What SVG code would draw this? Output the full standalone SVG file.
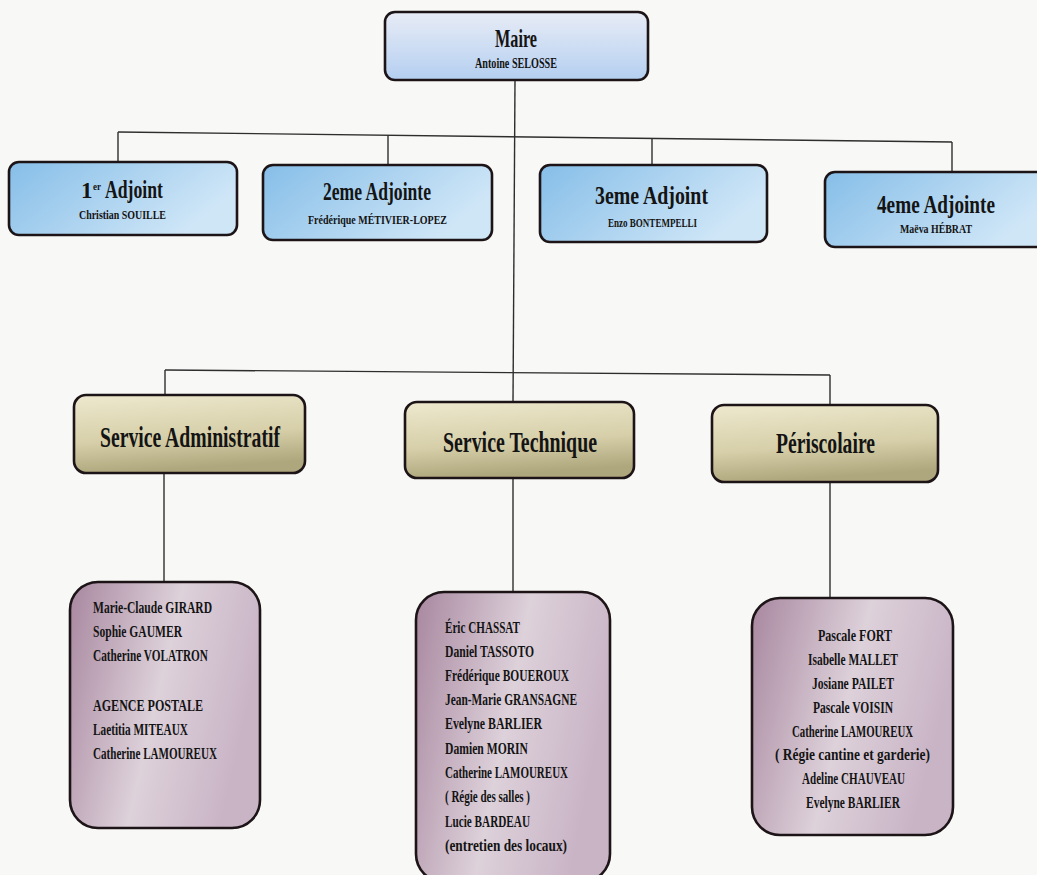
<svg xmlns="http://www.w3.org/2000/svg" width="1037" height="875" viewBox="0 0 1037 875">
<defs>
<linearGradient id="gMaire" x1="0" y1="0" x2="0" y2="1">
<stop offset="0" stop-color="#e8ecf6"/><stop offset="1" stop-color="#b4cff0"/>
</linearGradient>
<linearGradient id="gAdj" x1="0" y1="0" x2="1" y2="0.4">
<stop offset="0" stop-color="#86bee8"/><stop offset="1" stop-color="#cfe6f7"/>
</linearGradient>
<linearGradient id="gSvc" x1="0" y1="0" x2="0.2" y2="1">
<stop offset="0" stop-color="#eee9cf"/><stop offset="0.6" stop-color="#d6cfa9"/><stop offset="1" stop-color="#aea67c"/>
</linearGradient>
<linearGradient id="gStaff" x1="0" y1="0" x2="1" y2="0.3">
<stop offset="0" stop-color="#a8879f"/><stop offset="0.55" stop-color="#ddd1da"/><stop offset="1" stop-color="#c9b4c6"/>
</linearGradient>
</defs>
<style>
.bg{fill:#f8f8f6}
.line{stroke:#2e2e2e;stroke-width:1.4;fill:none}
.box{stroke:#1c1416;stroke-width:2.6}
.maire{fill:url(#gMaire)}
.adj{fill:url(#gAdj)}
.svc{fill:url(#gSvc)}
.staff{fill:url(#gStaff)}
text{font-family:"Liberation Serif","DejaVu Serif",serif;font-weight:bold;fill:#141414}
.t1{font-size:26px}
.t2{font-size:15px}
.ta{font-size:25px}
.tn{font-size:13px}
.ts{font-size:30px}
.tp{font-size:16px}
</style>
<rect class="bg" x="0" y="0" width="1037" height="875"/>
<g id="connectors">
<path class="line" d="M515,80 L513,402"/>
<path class="line" d="M118,132 L952,142"/>
<path class="line" d="M118,132 V162"/>
<path class="line" d="M388,135 V165"/>
<path class="line" d="M652,138 V166"/>
<path class="line" d="M952,142 V172"/>
<path class="line" d="M165,370 L830,375"/>
<path class="line" d="M165,370 V395"/>
<path class="line" d="M830,375 V405"/>
<path class="line" d="M164,473 V582"/>
<path class="line" d="M513,478 V592"/>
<path class="line" d="M830,482 V598"/>
</g>
<g id="maire">
<rect class="box maire" x="385" y="12" width="263" height="68" rx="10"/>
<text class="t1" x="495" y="47" textLength="42" lengthAdjust="spacingAndGlyphs">Maire</text>
<text class="t2" x="475" y="68" textLength="82" lengthAdjust="spacingAndGlyphs">Antoine SELOSSE</text>
</g>
<g id="adjoint1">
<rect class="box adj" x="9" y="162" width="228" height="73" rx="10"/>
<text x="81" y="198" font-size="23">1</text>
<text x="93" y="190" font-size="11" textLength="8" lengthAdjust="spacingAndGlyphs">er</text>
<text class="ta" x="105" y="198" textLength="58" lengthAdjust="spacingAndGlyphs">Adjoint</text>
<text class="tn" x="79" y="219" textLength="87" lengthAdjust="spacingAndGlyphs">Christian SOUILLE</text>
</g>
<g id="adjoint2">
<rect class="box adj" x="263" y="165" width="229" height="75" rx="10"/>
<text class="ta" x="323" y="200" textLength="108" lengthAdjust="spacingAndGlyphs">2eme Adjointe</text>
<text class="tn" x="308" y="224" textLength="139" lengthAdjust="spacingAndGlyphs">Frédérique MÉTIVIER-LOPEZ</text>
</g>
<g id="adjoint3">
<rect class="box adj" x="540" y="165" width="227" height="77" rx="10"/>
<text class="ta" x="595" y="204" textLength="113" lengthAdjust="spacingAndGlyphs">3eme Adjoint</text>
<text class="tn" x="608" y="227" textLength="89" lengthAdjust="spacingAndGlyphs">Enzo BONTEMPELLI</text>
</g>
<g id="adjoint4">
<rect class="box adj" x="825" y="172" width="225" height="75" rx="10"/>
<text class="ta" x="877" y="213" textLength="118" lengthAdjust="spacingAndGlyphs">4eme Adjointe</text>
<text class="tn" x="900" y="233" textLength="72" lengthAdjust="spacingAndGlyphs">Maëva HÉBRAT</text>
</g>
<g id="service-administratif">
<rect class="box svc" x="74" y="395" width="231" height="78" rx="12"/>
<text class="ts" x="100" y="447" textLength="180" lengthAdjust="spacingAndGlyphs">Service Administratif</text>
</g>
<g id="service-technique">
<rect class="box svc" x="405" y="402" width="229" height="76" rx="12"/>
<text class="ts" x="443" y="452" textLength="154" lengthAdjust="spacingAndGlyphs">Service Technique</text>
</g>
<g id="periscolaire">
<rect class="box svc" x="712" y="405" width="226" height="77" rx="12"/>
<text class="ts" x="776" y="453" textLength="99" lengthAdjust="spacingAndGlyphs">Périscolaire</text>
</g>
<g id="staff-administratif">
<rect class="box staff" x="70" y="582" width="190" height="246" rx="28"/>
<text class="tp" x="93" y="613" textLength="119" lengthAdjust="spacingAndGlyphs">Marie-Claude GIRARD</text>
<text class="tp" x="93" y="637" textLength="89" lengthAdjust="spacingAndGlyphs">Sophie GAUMER</text>
<text class="tp" x="93" y="661" textLength="115" lengthAdjust="spacingAndGlyphs">Catherine VOLATRON</text>
<text class="tp" x="93" y="711" textLength="110" lengthAdjust="spacingAndGlyphs">AGENCE POSTALE</text>
<text class="tp" x="93" y="735" textLength="95" lengthAdjust="spacingAndGlyphs">Laetitia MITEAUX</text>
<text class="tp" x="93" y="759" textLength="124" lengthAdjust="spacingAndGlyphs">Catherine LAMOUREUX</text>
</g>
<g id="staff-technique">
<rect class="box staff" x="416" y="592" width="194" height="290" rx="28"/>
<text class="tp" x="445" y="633" textLength="75" lengthAdjust="spacingAndGlyphs">Éric CHASSAT</text>
<text class="tp" x="445" y="657" textLength="89" lengthAdjust="spacingAndGlyphs">Daniel TASSOTO</text>
<text class="tp" x="445" y="681" textLength="124" lengthAdjust="spacingAndGlyphs">Frédérique BOUEROUX</text>
<text class="tp" x="445" y="705" textLength="132" lengthAdjust="spacingAndGlyphs">Jean-Marie GRANSAGNE</text>
<text class="tp" x="445" y="729" textLength="97" lengthAdjust="spacingAndGlyphs">Evelyne BARLIER</text>
<text class="tp" x="445" y="754" textLength="83" lengthAdjust="spacingAndGlyphs">Damien MORIN</text>
<text class="tp" x="445" y="778" textLength="123" lengthAdjust="spacingAndGlyphs">Catherine LAMOUREUX</text>
<text class="tp" x="445" y="802" textLength="85" lengthAdjust="spacingAndGlyphs">( Régie des salles )</text>
<text class="tp" x="445" y="827" textLength="85" lengthAdjust="spacingAndGlyphs">Lucie BARDEAU</text>
<text class="tp" x="445" y="851" textLength="122" lengthAdjust="spacingAndGlyphs">(entretien des locaux)</text>
</g>
<g id="staff-periscolaire">
<rect class="box staff" x="752" y="598" width="201" height="237" rx="28"/>
<text class="tp" x="818" y="641" textLength="74" lengthAdjust="spacingAndGlyphs">Pascale FORT</text>
<text class="tp" x="808" y="665" textLength="90" lengthAdjust="spacingAndGlyphs">Isabelle MALLET</text>
<text class="tp" x="812" y="689" textLength="82" lengthAdjust="spacingAndGlyphs">Josiane PAILET</text>
<text class="tp" x="813" y="713" textLength="80" lengthAdjust="spacingAndGlyphs">Pascale VOISIN</text>
<text class="tp" x="792" y="737" textLength="121" lengthAdjust="spacingAndGlyphs">Catherine LAMOUREUX</text>
<text class="tp" x="775" y="760" textLength="155" lengthAdjust="spacingAndGlyphs">( Régie cantine et garderie)</text>
<text class="tp" x="802" y="784" textLength="103" lengthAdjust="spacingAndGlyphs">Adeline CHAUVEAU</text>
<text class="tp" x="806" y="808" textLength="94" lengthAdjust="spacingAndGlyphs">Evelyne BARLIER</text>
</g>
</svg>
